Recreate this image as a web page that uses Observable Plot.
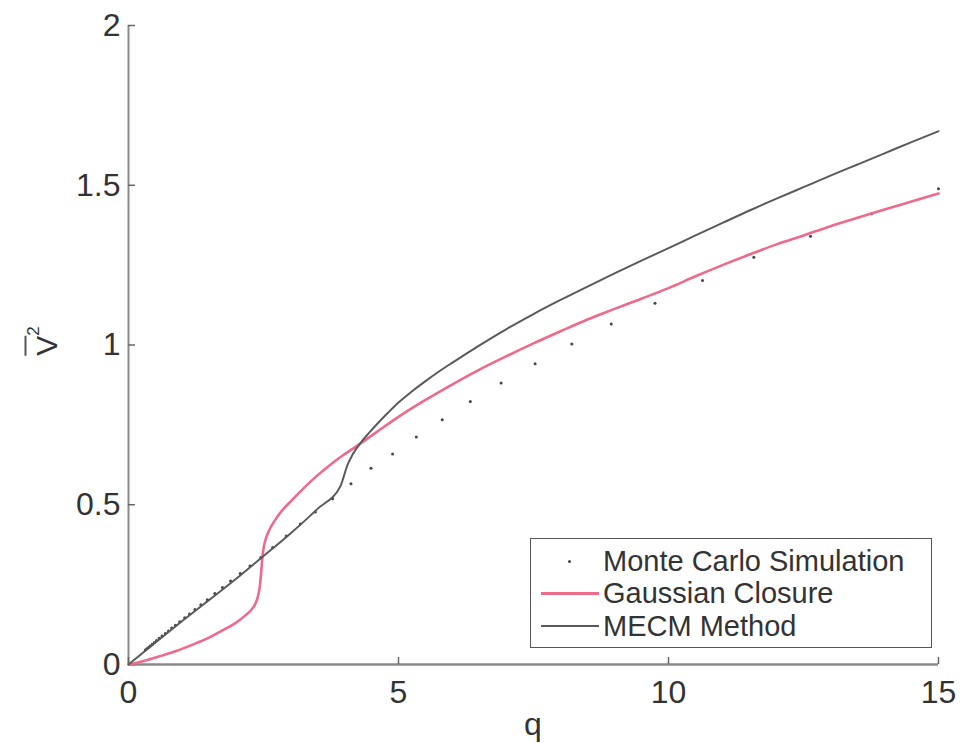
<!DOCTYPE html>
<html><head><meta charset="utf-8">
<script src="https://cdn.jsdelivr.net/npm/d3@7"></script>
<script src="https://cdn.jsdelivr.net/npm/@observablehq/plot@0.6"></script>
<style>
html,body{margin:0;padding:0;background:#fff;}
#wrap{position:relative;width:972px;height:743px;overflow:hidden;font-family:"Liberation Sans",Arial,Helvetica,sans-serif;color:#333;}
#legend{position:absolute;left:530px;top:538px;width:402px;height:110px;border:1.5px solid #555;background:#fff;box-sizing:border-box;}
.row{position:absolute;left:0;height:32px;width:100%;}
.row .lab{position:absolute;left:72px;top:0;font-size:29px;line-height:32px;color:#333;white-space:nowrap;}
.row .sw{position:absolute;left:10px;width:58px;top:16px;}
#xlab{position:absolute;left:533px;top:706px;transform:translateX(-50%);font-size:32px;line-height:36px;}
#ylab{position:absolute;left:43px;top:341px;transform:translate(-50%,-50%) rotate(-90deg);font-size:30px;white-space:nowrap;line-height:30px;}
#ylab .bar{display:inline-block;border-top:2px solid #555;padding-top:8px;line-height:24px;}
#ylab sup{font-size:17px;vertical-align:top;position:relative;top:-6px;}
</style></head>
<body><div id="wrap"></div>
<script>
// Monte Carlo Simulation
const mcQ = [0.31,0.34,0.37,0.40,0.44,0.48,0.52,0.57,0.62,0.68,0.74,0.80,0.87,0.95,1.04,1.13,1.23,1.34,1.46,1.60,1.74,1.89,2.07,2.25,2.45,2.67,2.92,3.18,3.46,3.78,4.12,4.49,4.89,5.33,5.81,6.33,6.90,7.53,8.21,8.94,9.75,10.63,11.58,12.63,13.76,15.0];
const mcV = [0.045,0.049,0.053,0.058,0.063,0.069,0.075,0.082,0.089,0.097,0.105,0.114,0.123,0.134,0.146,0.158,0.172,0.187,0.203,0.222,0.241,0.261,0.285,0.308,0.335,0.366,0.402,0.440,0.477,0.519,0.566,0.614,0.659,0.712,0.766,0.823,0.881,0.941,1.003,1.066,1.131,1.202,1.275,1.340,1.411,1.489];
// Gaussian Closure
const gcQ = [0,0.3,0.6,0.9,1.2,1.5,1.8,2.0,2.16,2.28,2.35,2.40,2.43,2.46,2.48,2.51,2.56,2.62,2.71,2.85,3.02,3.25,3.5,3.75,4.0,4.3,4.6,5.0,5.5,6.0,6.5,7.0,7.5,8.0,8.5,9.0,9.5,10.0,10.5,11.0,11.5,12.0,12.5,13.0,13.5,14.0,14.5,15.0];
const gcV = [0,0.012,0.027,0.043,0.063,0.085,0.112,0.132,0.153,0.172,0.19,0.215,0.242,0.294,0.336,0.372,0.402,0.425,0.451,0.483,0.513,0.553,0.592,0.627,0.658,0.692,0.728,0.775,0.828,0.877,0.923,0.965,1.005,1.043,1.08,1.113,1.145,1.178,1.215,1.25,1.283,1.315,1.343,1.372,1.398,1.424,1.449,1.474];
// MECM Method
const meQ = [0,0.5,1.0,1.5,2.0,2.44,3.0,3.5,3.93,3.98,4.05,4.15,4.3,4.45,4.6,4.8,5.0,5.25,5.5,5.75,6.0,6.5,7.0,7.5,8.0,8.5,9.0,9.5,10.0,10.5,11.0,11.5,12.0,12.5,13.0,13.5,14.0,14.5,15.0];
const meV = [0,0.069,0.137,0.203,0.269,0.331,0.41,0.487,0.56,0.585,0.622,0.657,0.694,0.724,0.752,0.787,0.82,0.855,0.887,0.917,0.945,0.999,1.05,1.097,1.141,1.183,1.224,1.264,1.303,1.343,1.382,1.421,1.458,1.494,1.53,1.565,1.6,1.635,1.669];

const xTicks = [0, 5, 10, 15];
const yTicks = [0, 0.5, 1, 1.5, 2];
const seriesNames = ["Monte Carlo Simulation", "Gaussian Closure", "MECM Method"];
const pink = "#ee6a8b", dark = "#5a5a5a";

const mc = mcQ.map((q, i) => ({q, v: mcV[i]}));
const gc = gcQ.map((q, i) => ({q, v: gcV[i]}));
const me = meQ.map((q, i) => ({q, v: meV[i]}));

const W = 972, H = 743, mL = 128, mR = 34, mT = 25, mB = 79;
const frameW = W - mL - mR, frameH = H - mT - mB, tickLen = 7;

const chart = Plot.plot({
  width: W, height: H,
  marginLeft: mL, marginRight: mR, marginTop: mT, marginBottom: mB,
  x: {domain: [0, 15]},
  y: {domain: [0, 2]},
  style: {fontFamily: "Liberation Sans, Arial, Helvetica, sans-serif", fontSize: "32px", color: "#333", background: "white"},
  marks: [
    Plot.ruleY([0], {stroke: "#8a8a8a", strokeWidth: 2.5}),
    Plot.ruleX([0], {stroke: "#8a8a8a", strokeWidth: 2}),
    Plot.tickX(xTicks, {x: d => d, stroke: "#666", strokeWidth: 1.5, insetTop: frameH - tickLen}),
    Plot.tickY(yTicks, {y: d => d, stroke: "#666", strokeWidth: 1.5, insetRight: frameW - tickLen}),
    Plot.axisX({ticks: xTicks, tickSize: 0, tickPadding: 16, tickFormat: d => String(d), label: null}),
    Plot.axisY({ticks: yTicks, tickSize: 0, tickPadding: 8, tickFormat: d => String(d), label: null}),
    Plot.dot(mc, {x: "q", y: "v", r: 1.5, fill: "#444", stroke: null}),
    Plot.line(gc, {x: "q", y: "v", stroke: pink, strokeWidth: 2.6, curve: "monotone-x"}),
    Plot.line(me, {x: "q", y: "v", stroke: dark, strokeWidth: 2, curve: "monotone-x"})
  ]
});
const wrap = document.getElementById("wrap");
wrap.appendChild(chart);

// axis titles
const xl = document.createElement("div"); xl.id = "xlab"; xl.textContent = "q"; wrap.appendChild(xl);
const yl = document.createElement("div"); yl.id = "ylab";
yl.innerHTML = '<span class="bar">V</span><sup>2</sup>'; wrap.appendChild(yl);

// legend
const lg = document.createElement("div"); lg.id = "legend";
const rowsTop = [6, 38, 71];
seriesNames.forEach((name, i) => {
  const r = document.createElement("div"); r.className = "row"; r.style.top = rowsTop[i] + "px";
  let sw;
  if (i === 0) sw = '<div class="sw" style="height:0"><div style="position:absolute;left:27px;top:-1.5px;width:3px;height:3px;border-radius:50%;background:#444"></div></div>';
  else if (i === 1) sw = `<div class="sw" style="border-top:3px solid ${pink};margin-top:-1.5px"></div>`;
  else sw = `<div class="sw" style="border-top:2px solid ${dark};margin-top:-1px"></div>`;
  r.innerHTML = sw + `<div class="lab">${name}</div>`;
  lg.appendChild(r);
});
wrap.appendChild(lg);
</script>
</body></html>
